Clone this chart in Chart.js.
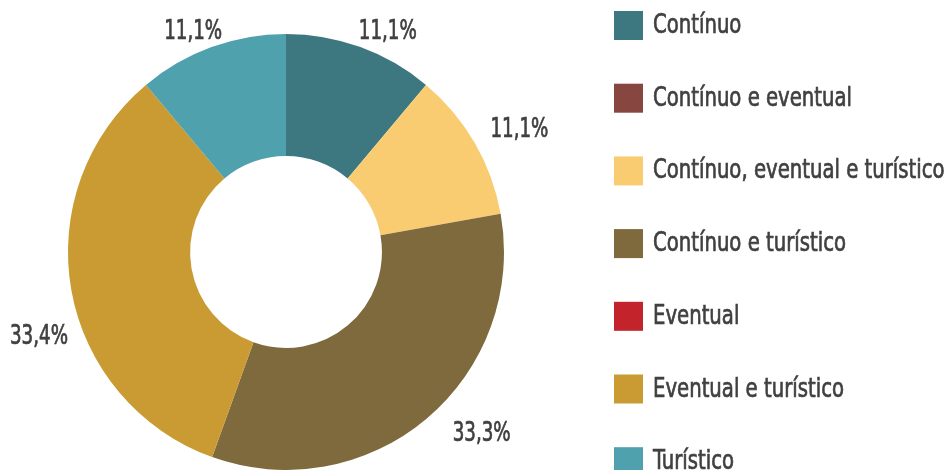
<!DOCTYPE html>
<html>
<head>
<meta charset="utf-8">
<script src="https://cdn.jsdelivr.net/npm/chart.js@4.4.0/dist/chart.umd.min.js"></script>
<style>
  html, body { margin: 0; padding: 0; background: #fff; }
  #wrap { width: 952px; height: 470px; position: relative; }
</style>
</head>
<body>
<div id="wrap"><canvas id="chart"></canvas></div>
<script>
// Data
const categories = ['Contínuo', 'Contínuo e eventual', 'Contínuo, eventual e turístico', 'Contínuo e turístico', 'Eventual', 'Eventual e turístico', 'Turístico'];
const shares = [11.1, 0, 11.1, 33.3, 0, 33.4, 11.1];
const colors = ['#3d7780', '#87463f', '#f9cc72', '#7f6a3d', '#c3232a', '#c99b32', '#4fa1ad'];

const FONT = '"DejaVu Sans Condensed", "DejaVu Sans", sans-serif';
const TEXT = '#404040';

// draw text squeezed horizontally (the original face is a narrow DIN-like one)
function narrowText(ctx, txt, x, y, squeeze) {
    ctx.save();
    ctx.translate(x, y);
    ctx.scale(squeeze, 1);
    ctx.strokeStyle = TEXT;
    ctx.lineWidth = 0.7;
    ctx.fillText(txt, 0, 0);
    ctx.strokeText(txt, 0, 0);
    ctx.restore();
}

// Percentage labels outside the ring
const sliceLabels = {
    id: 'sliceLabels',
    afterDatasetsDraw(chart, args, opts) {
        const ctx = chart.ctx;
        const arcs = chart.getDatasetMeta(0).data;
        ctx.save();
        ctx.font = '26px ' + FONT;
        ctx.fillStyle = TEXT;
        ctx.textAlign = 'center';
        ctx.textBaseline = 'middle';
        arcs.forEach((arc, i) => {
            if (!shares[i]) return;
            const p = arc.getProps(['x', 'y', 'startAngle', 'endAngle', 'outerRadius'], true);
            const mid = (p.startAngle + p.endAngle) / 2;
            const txt = shares[i].toFixed(1).replace('.', ',') + '%';
            const w = ctx.measureText(txt).width * opts.squeeze;
            const r = p.outerRadius + 10;
            const nudge = opts.nudge[i] || [0, 0];
            const cx = p.x + Math.cos(mid) * (r + w / 2) + nudge[0];
            const cy = p.y + Math.sin(mid) * (r + 10) + nudge[1];
            narrowText(ctx, txt, cx, cy, opts.squeeze);
        });
        ctx.restore();
    }
};

// Legend drawn at the right
const sideLegend = {
    id: 'sideLegend',
    afterDraw(chart, args, opts) {
        const ctx = chart.ctx;
        ctx.save();
        ctx.font = '27px ' + FONT;
        ctx.textBaseline = 'middle';
        categories.forEach((name, i) => {
            const top = 11 + i * 72.7;
            ctx.fillStyle = colors[i];
            ctx.fillRect(614, top, 29, 29);
            ctx.fillStyle = TEXT;
            narrowText(ctx, name, 653, top + 15, opts.squeeze);
        });
        ctx.restore();
    }
};

const ctx = document.getElementById('chart').getContext('2d');
const chart = new Chart(ctx, {
    type: 'doughnut',
    data: {
        labels: categories,
        datasets: [{
            data: shares,
            backgroundColor: colors,
            borderWidth: 0
        }]
    },
    options: {
        responsive: true,
        maintainAspectRatio: false,
        animation: false,
        cutout: '44%',
        layout: {
            padding: { left: 67, right: 447, top: 34, bottom: 0 }
        },
        plugins: {
            legend: { display: false },
            tooltip: { enabled: false },
            sliceLabels: {
                squeeze: 0.78,
                // small shifts so labels sit where the original put them
                nudge: [[14, 4], null, [11, -3], [30, 0], null, [6, 44], [-5, 4]]
            },
            sideLegend: { squeeze: 0.81 }
        }
    },
    plugins: [sliceLabels, sideLegend]
});
</script>
</body>
</html>
